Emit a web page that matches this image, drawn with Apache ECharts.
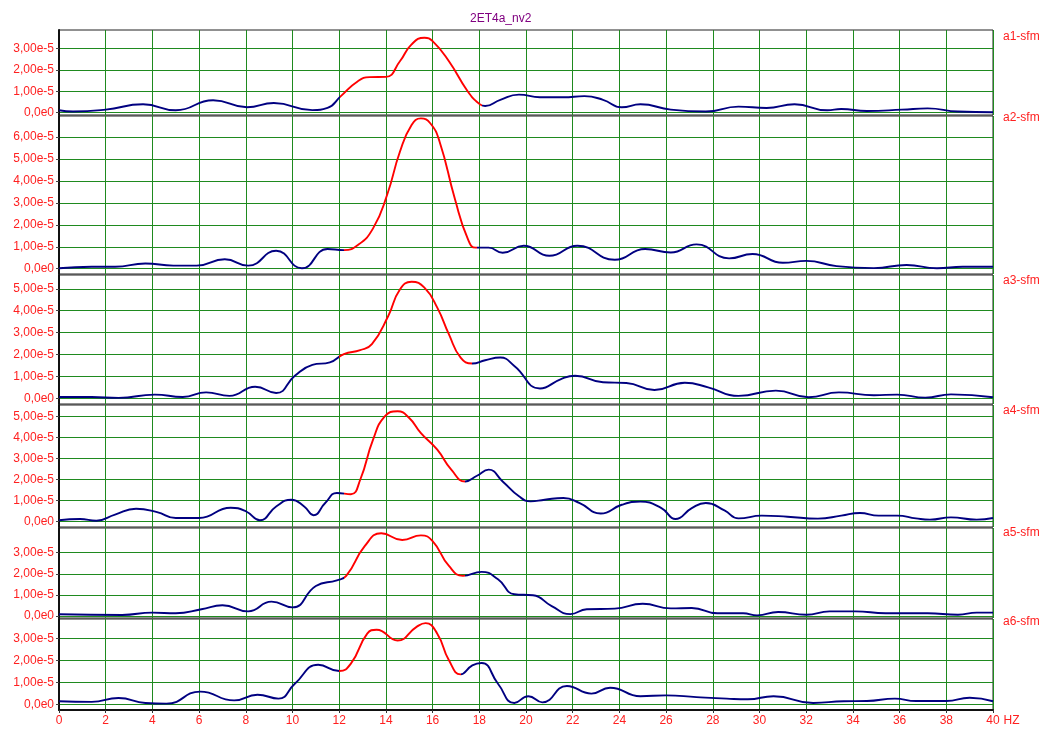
<!DOCTYPE html>
<html><head><meta charset="utf-8">
<script src="https://cdn.jsdelivr.net/npm/echarts@6/dist/echarts.min.js"></script>
<style>html,body{margin:0;padding:0;background:#fff}#c{width:1043px;height:729px}</style>
</head><body><div id="c"></div>
<script>
// ---------- data (values in units of 1e-5) ----------
const chartTitle = '2ET4a_nv2';
const channelNames = ['a1-sfm', 'a2-sfm', 'a3-sfm', 'a4-sfm', 'a5-sfm', 'a6-sfm'];
const xTicks = [0, 2, 4, 6, 8, 10, 12, 14, 16, 18, 20, 22, 24, 26, 28, 30, 32, 34, 36, 38, 40];

const a1Freq = [0, 0.6, 2, 3.6, 5.0, 6.6, 8.05, 9.2, 10.85, 11.5, 12.07, 12.8, 13.3, 14.0, 14.6, 15.1, 15.65, 16.0, 16.7, 17.5, 18.0, 18.25, 18.9, 19.7, 20.6, 21.6, 22.5, 23.3, 24.1, 24.9, 26.2, 27.7, 29.1, 30.3, 31.5, 32.9, 33.5, 34.6, 36.1, 37.2, 38.5, 40];
const a1Val  = [0.11, 0.05, 0.14, 0.39, 0.11, 0.58, 0.25, 0.45, 0.12, 0.22, 0.77, 1.47, 1.66, 1.67, 2.4, 3.19, 3.5, 3.34, 2.4, 1.0, 0.41, 0.31, 0.6, 0.84, 0.72, 0.72, 0.77, 0.6, 0.25, 0.39, 0.14, 0.05, 0.28, 0.22, 0.39, 0.11, 0.17, 0.08, 0.14, 0.2, 0.05, 0.02];

const a2Freq = [0, 1.4, 2.4, 3.7, 4.9, 5.9, 7.1, 8.1, 9.3, 10.4, 11.5, 12.2, 12.8, 13.45, 14.05, 14.6, 15.1, 15.5, 15.9, 16.3, 16.95, 17.5, 17.85, 18.4, 19.0, 19.9, 21.0, 22.2, 23.8, 25.1, 26.2, 27.3, 28.7, 29.7, 31.0, 32.0, 33.3, 34.9, 36.3, 37.6, 38.7, 40];
const a2Val  = [0.02, 0.09, 0.09, 0.24, 0.14, 0.14, 0.43, 0.14, 0.82, 0.02, 0.9, 0.85, 1.08, 1.84, 3.36, 5.33, 6.55, 6.85, 6.63, 5.79, 3.2, 1.38, 0.96, 0.96, 0.73, 1.05, 0.59, 1.05, 0.41, 0.9, 0.74, 1.11, 0.47, 0.67, 0.27, 0.36, 0.12, 0.03, 0.17, 0.02, 0.09, 0.09];

const a3Freq = [0, 1.4, 2.55, 4.1, 5.3, 6.3, 7.3, 8.4, 9.3, 10.1, 10.85, 11.6, 12.2, 12.9, 13.4, 14.1, 14.6, 15.1, 15.65, 16.2, 16.7, 17.2, 17.7, 18.25, 18.9, 19.5, 20.6, 21.5, 22.1, 23.3, 24.3, 25.5, 26.8, 27.8, 29.1, 30.7, 32.1, 33.4, 34.9, 35.9, 37.1, 38.2, 40];
const a3Val  = [0.06, 0.06, 0.02, 0.17, 0.06, 0.27, 0.11, 0.53, 0.24, 1.03, 1.53, 1.64, 2.02, 2.2, 2.47, 3.76, 4.97, 5.32, 5.05, 4.14, 2.92, 1.86, 1.59, 1.74, 1.86, 1.48, 0.45, 0.88, 1.03, 0.73, 0.7, 0.38, 0.71, 0.5, 0.11, 0.35, 0.05, 0.27, 0.14, 0.17, 0.03, 0.18, 0.05];

const a4Freq = [0, 0.9, 1.6, 2.4, 3.3, 4.2, 5.0, 6.0, 7.35, 8.0, 8.6, 9.3, 9.95, 10.5, 10.9, 11.4, 11.9, 12.5, 12.9, 13.45, 13.95, 14.5, 15.0, 15.5, 16.2, 16.8, 17.4, 17.9, 18.4, 19.0, 19.7, 20.2, 20.8, 21.6, 22.3, 23.2, 24.1, 24.9, 25.8, 26.4, 27.1, 27.7, 28.5, 29.1, 30.1, 31.2, 32.5, 33.5, 34.3, 35.1, 35.9, 36.7, 37.3, 38.2, 39.3, 40];
const a4Val  = [0.05, 0.11, 0.03, 0.32, 0.6, 0.44, 0.16, 0.16, 0.65, 0.48, 0.05, 0.71, 1.03, 0.71, 0.29, 0.87, 1.35, 1.29, 1.98, 3.89, 5.0, 5.24, 4.92, 4.2, 3.41, 2.46, 1.9, 2.17, 2.46, 1.9, 1.19, 0.95, 1.03, 1.11, 0.87, 0.37, 0.79, 0.94, 0.63, 0.11, 0.63, 0.87, 0.52, 0.14, 0.27, 0.22, 0.13, 0.27, 0.4, 0.27, 0.27, 0.14, 0.08, 0.19, 0.08, 0.16];

const a5Freq = [0, 2.7, 4.0, 5.0, 6.1, 7.0, 8.1, 9.1, 10.0, 11.0, 11.9, 12.3, 13.1, 13.8, 14.7, 15.5, 16.0, 16.7, 17.3, 18.1, 18.8, 19.5, 20.3, 21.1, 21.9, 22.6, 23.8, 25.0, 26.2, 27.1, 28.2, 29.3, 29.9, 30.8, 32.0, 33.0, 34.1, 35.4, 37.2, 38.5, 39.3, 40];
const a5Val  = [0.08, 0.05, 0.16, 0.13, 0.32, 0.51, 0.22, 0.68, 0.41, 1.42, 1.69, 1.9, 3.32, 3.92, 3.6, 3.82, 3.55, 2.37, 1.9, 2.09, 1.74, 1.03, 0.98, 0.47, 0.09, 0.32, 0.35, 0.58, 0.36, 0.38, 0.13, 0.13, 0.03, 0.19, 0.06, 0.22, 0.22, 0.13, 0.13, 0.06, 0.16, 0.16];

const a6Freq = [0, 1.4, 2.55, 3.7, 4.6, 6.05, 7.5, 8.5, 9.4, 10.1, 11.1, 12.0, 12.5, 13.2, 13.6, 14.5, 15.3, 15.7, 16.2, 16.7, 17.2, 17.7, 18.1, 18.8, 19.5, 20.1, 20.7, 21.75, 22.8, 23.6, 24.9, 26.0, 27.3, 28.6, 29.5, 30.6, 32.3, 33.6, 34.6, 35.8, 36.7, 38.0, 39.0, 40];
const a6Val  = [0.14, 0.11, 0.29, 0.06, 0.03, 0.58, 0.18, 0.44, 0.26, 0.94, 1.81, 1.52, 1.86, 3.23, 3.41, 2.92, 3.53, 3.71, 3.23, 2.01, 1.37, 1.78, 1.89, 0.94, 0.06, 0.37, 0.09, 0.84, 0.49, 0.76, 0.37, 0.41, 0.33, 0.26, 0.23, 0.37, 0.06, 0.14, 0.15, 0.26, 0.15, 0.15, 0.3, 0.14];

// y tick labels per panel (×1e-5)
const yTicks1 = [0, 1, 2, 3];
const yTicks2 = [0, 1, 2, 3, 4, 5, 6];
const yTicks3 = [0, 1, 2, 3, 4, 5];
const yTicks4 = [0, 1, 2, 3, 4, 5];
const yTicks5 = [0, 1, 2, 3];
const yTicks6 = [0, 1, 2, 3];

// highlighted (red) frequency band per panel
const band1 = [12.05, 18.1];
const band2 = [12.2, 17.9];
const band3 = [12.0, 17.7];
const band4 = [12.2, 17.4];
const band5 = [12.2, 17.4];
const band6 = [12.0, 17.2];

// value-axis ranges per panel
const yMin = [-0.11, -0.24, -0.26, -0.27, -0.095, -0.26];
const yMax = [3.86, 6.96, 5.63, 5.54, 4.17, 3.9];

// ---------- layout ----------
const panelTops = [30, 116, 275, 405, 528, 619];
const panelBottoms = [115, 274, 404, 527, 618, 710];
const labelTops = [31, 112, 275, 405, 527, 616];

const freqs = [a1Freq, a2Freq, a3Freq, a4Freq, a5Freq, a6Freq];
const vals = [a1Val, a2Val, a3Val, a4Val, a5Val, a6Val];
const yTicksAll = [yTicks1, yTicks2, yTicks3, yTicks4, yTicks5, yTicks6];
const bands = [band1, band2, band3, band4, band5, band6];

const RED = '#ff0000', NAVY = '#000080', GREEN = '#1f8a1f', LBL = '#ff2020';
const FONT = 'Liberation Sans, Arial, sans-serif';

const grids = [], xAxes = [], yAxes = [], series = [], visualMaps = [];
const titles = [{
  text: chartTitle, left: 470, top: 13, padding: 0,
  textStyle: { color: '#800080', fontSize: 12, fontWeight: 'normal', fontFamily: FONT }
}];

for (let i = 0; i < 6; i++) {
  const last = i === 5;
  grids.push({
    left: 59, right: 50, top: panelTops[i], height: panelBottoms[i] - panelTops[i],
    show: true, borderColor: '#222', borderWidth: 1, backgroundColor: 'transparent', containLabel: false
  });
  xAxes.push({
    type: 'value', gridIndex: i, min: 0, max: 40, interval: 2,
    axisLine: { show: last, onZero: false, lineStyle: { color: '#111', width: 2 } },
    axisTick: { show: last, length: 3, lineStyle: { color: '#333' } },
    axisLabel: { show: last, color: LBL, fontSize: 12, fontFamily: FONT, margin: 5,
      formatter: v => xTicks.includes(v) ? String(v) : '' },
    splitLine: { show: true, lineStyle: { color: GREEN, width: 1 } },
    name: last ? 'HZ' : '', nameLocation: 'end', nameGap: 8,
    nameTextStyle: { color: LBL, fontSize: 12, fontFamily: FONT, verticalAlign: 'top', padding: [5, 0, 0, 0] }
  });
  yAxes.push({
    type: 'value', gridIndex: i, min: yMin[i], max: yMax[i],
    axisLine: { show: true, onZero: false, lineStyle: { color: '#111', width: 2 } },
    axisTick: { show: true, length: 3, customValues: yTicksAll[i], lineStyle: { color: '#444' } },
    axisLabel: { color: LBL, fontSize: 12, fontFamily: FONT, margin: 5, customValues: yTicksAll[i],
      formatter: v => v === 0 ? '0,0e0' : v.toFixed(2).replace('.', ',') + 'e-5' },
    splitLine: { show: true, lineStyle: { color: GREEN, width: 1 } }
  });
  series.push({
    type: 'line', xAxisIndex: i, yAxisIndex: i, name: channelNames[i],
    data: freqs[i].map((f, k) => [f, vals[i][k]]),
    showSymbol: false, smooth: 0.5, lineStyle: { width: 1.9 }, animation: false
  });
  visualMaps.push({
    type: 'piecewise', show: false, seriesIndex: i, dimension: 0,
    pieces: [{ gte: bands[i][0], lte: bands[i][1], color: RED }],
    outOfRange: { color: NAVY }
  });
  titles.push({
    text: channelNames[i], left: 1003, top: labelTops[i], padding: 0,
    textStyle: { color: LBL, fontSize: 12, fontWeight: 'normal', fontFamily: FONT }
  });
}

const chart = echarts.init(document.getElementById('c'));
chart.setOption({
  animation: false,
  backgroundColor: '#fff',
  title: titles,
  grid: grids, xAxis: xAxes, yAxis: yAxes,
  visualMap: visualMaps,
  series: series
});
</script></body></html>
